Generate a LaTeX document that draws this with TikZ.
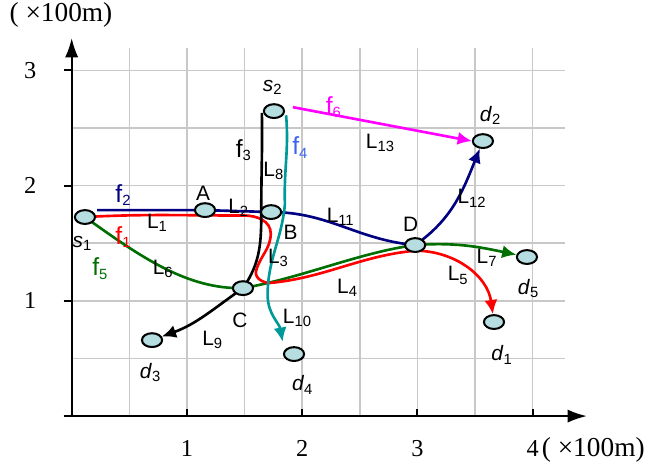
\documentclass[tikz,border=0pt]{standalone}
\usepackage{fontspec}
\setmainfont{Liberation Serif}
\setsansfont{Liberation Sans}
\usetikzlibrary{arrows.meta, positioning, shapes.geometric, calc}
\definecolor{flownavy}{RGB}{0,0,128}
\definecolor{flowred}{RGB}{255,0,0}
\definecolor{flowgreen}{RGB}{0,110,0}
\definecolor{flowteal}{RGB}{0,153,153}
\definecolor{flowpink}{RGB}{255,0,255}
\definecolor{labelblue}{RGB}{60,100,240}
\definecolor{nodefill}{RGB}{182,222,224}
\definecolor{gridgray}{RGB}{200,200,200}
\pgfdeclarelayer{grid}
\pgfdeclarelayer{flows}
\pgfsetlayers{grid,flows,main}

\newcommand{\subs}[1]{\raisebox{-1.6pt}{\fontsize{7.3}{8}\selectfont #1}}
\newcommand{\lnk}[1]{L\subs{#1}}
\newcommand{\flw}[1]{f\subs{#1}}
\newcommand{\src}[1]{\textit{s}\subs{#1}}
\newcommand{\dst}[1]{\textit{d}\subs{#1}}

\tikzset{
  station/.style={ellipse, draw, line width=1pt, fill=nodefill,
    minimum width=0.35cm, minimum height=0.24cm, inner sep=0pt},
  txt/.style={font=\fontsize{10.3}{12}\selectfont\sffamily, inner sep=0pt},
  flowtxt/.style={font=\fontsize{12.2}{14}\selectfont\sffamily, inner sep=0pt},
  ticklabel/.style={font=\fontsize{12}{14}\selectfont, inner sep=0pt},
  unitlabel/.style={font=\fontsize{13.5}{16}\selectfont, inner sep=0pt},
  flow/.style={line width=1.3pt, -{Latex[length=7pt,width=6.5pt]}},
  gridline/.style={color=gridgray, line width=0.7pt},
  axis/.style={line width=1pt, -{Latex[length=9.5pt,width=6.5pt]}}
}

\begin{document}
\begin{tikzpicture}[x=2cm, y=2cm]
\useasboundingbox (-0.622,-0.434) rectangle (5.035,3.61);

% grid and axes
\begin{pgfonlayer}{grid}
 \foreach \gy in {0.5,1,...,3}
   \draw[gridline] (0,\gy) -- (4.28,\gy);
 \foreach \gx in {0.5,1,...,4}
   \draw[gridline] (\gx,0) -- (\gx,3.19);
\end{pgfonlayer}

\draw[axis] (-0.07,0) -- (4.47,0);
\draw[axis] (0,0) -- (0,3.28);
\foreach \k in {1,2,3}{
  \draw[line width=1pt] (\k,0) -- (\k,0.06);
  \draw[line width=1pt] (-0.07,\k) -- (0,\k);
  \node[ticklabel] (xt\k) at (\k,-0.278) {\k};
  \node[ticklabel] (yt\k) at (-0.36,\k) {\k};
}
\draw[line width=1pt] (4,0) -- (4,0.06);
\node[ticklabel] (xt4) at (4,-0.278) {4};
\node[unitlabel, anchor=base west] (xunit) at ($(xt4.base east)+(0.02,0)$) {( ×100m)};
\node[unitlabel] (yunit) at (-0.093,3.48) {( ×100m)};

% stations
\node[station] (s1) at (0.115,1.727) {};
\node[station] (A)  at (1.157,1.787) {};
\node[station] (B)  at (1.73,1.77) {};
\node[station] (C)  at (1.486,1.11) {};
\node[station] (D)  at (2.98,1.484) {};
\node[station] (s2) at (1.755,2.646) {};
\node[station] (d2) at (3.568,2.386) {};
\node[station] (d5) at (3.95,1.38) {};
\node[station] (d1) at (3.664,0.816) {};
\node[station] (d4) at (1.929,0.538) {};
\node[station] (d3) at (0.697,0.659) {};

\coordinate (f2start) at (0.22,1.787);
\coordinate (f3start) at (1.65,2.63);
\coordinate (f4start) at (1.86,2.61);
\coordinate (f4end) at (1.83,0.645);
\coordinate (f6start) at (1.92,2.68);

% flows
\begin{pgfonlayer}{flows}
 \draw[flow, color=flowgreen] (s1.center) .. controls (0.6,1.38) and (1.0,1.10) .. (C.center)
   .. controls (2.0,1.2) and (2.5,1.42) .. (D.center) to[out=4,in=168] (d5);
 \draw[flow, color=flowred] (s1.center) to[out=3,in=180] (1.5,1.74) to[out=0,in=90] (1.727,1.585)
   to[out=-90,in=75] (1.6,1.26) to[out=-105,in=180] (1.72,1.155)
   .. controls (2.2,1.2) and (2.5,1.39) .. (2.98,1.435) to[out=0,in=98] (d1);
 \draw[flow, color=flownavy] (f2start) -- (A.center) -- (B.center) to[out=0,in=175] (D.center)
   to[out=35,in=-112] (d2);
 \draw[flow, color=black] (f3start) to[out=-89,in=90] (1.645,1.8) to[out=-90,in=55] (C.center)
   to[out=-145,in=20] (d3);
 \draw[flow, color=flowteal] (f4start) to[out=-85,in=92] (1.85,1.84) to[out=-95,in=90] (1.70,1.05)
   to[out=-90,in=100] (f4end);
 \draw[flow, color=flowpink] (f6start) -- (d2.west);
\end{pgfonlayer}

% station labels
\node[txt] (lbls1) at (0.09,1.50) {\src{1}};
\node[txt] (lblA)  at (1.14,1.93) {A};
\node[txt] (lblB)  at (1.90,1.59) {B};
\node[txt] (lblC)  at (1.46,0.83) {C};
\node[txt] (lblD)  at (2.94,1.66) {D};
\node[txt] (lbls2) at (1.74,2.85) {\src{2}};
\node[txt] (lbld2) at (3.63,2.61) {\dst{2}};
\node[txt] (lbld5) at (3.96,1.11) {\dst{5}};
\node[txt] (lbld1) at (3.73,0.53) {\dst{1}};
\node[txt] (lbld4) at (2.0,0.27) {\dst{4}};
\node[txt] (lbld3) at (0.68,0.38) {\dst{3}};

% link labels
\node[txt] (L1)  at (0.74,1.68) {\lnk{1}};
\node[txt] (L2)  at (1.445,1.81) {\lnk{2}};
\node[txt] (L3)  at (1.79,1.37) {\lnk{3}};
\node[txt] (L4)  at (2.39,1.11) {\lnk{4}};
\node[txt] (L5)  at (3.35,1.22) {\lnk{5}};
\node[txt] (L6)  at (0.79,1.28) {\lnk{6}};
\node[txt] (L7)  at (3.60,1.37) {\lnk{7}};
\node[txt] (L8)  at (1.75,2.13) {\lnk{8}};
\node[txt] (L9)  at (1.22,0.66) {\lnk{9}};
\node[txt] (L10) at (1.955,0.85) {\lnk{10}};
\node[txt] (L11) at (2.33,1.73) {\lnk{11}};
\node[txt] (L12) at (3.47,1.89) {\lnk{12}};
\node[txt] (L13) at (2.675,2.37) {\lnk{13}};

% flow labels
\node[flowtxt, color=flowred]   (lblf1) at (0.445,1.55) {\flw{1}};
\node[flowtxt, color=flownavy]  (lblf2) at (0.445,1.92) {\flw{2}};
\node[flowtxt, color=black]     (lblf3) at (1.49,2.31) {\flw{3}};
\node[flowtxt, color=labelblue] (lblf4) at (1.98,2.33) {\flw{4}};
\node[flowtxt, color=flowgreen] (lblf5) at (0.245,1.28) {\flw{5}};
\node[flowtxt, color=flowpink]  (lblf6) at (2.27,2.68) {\flw{6}};
\end{tikzpicture}
\end{document}
